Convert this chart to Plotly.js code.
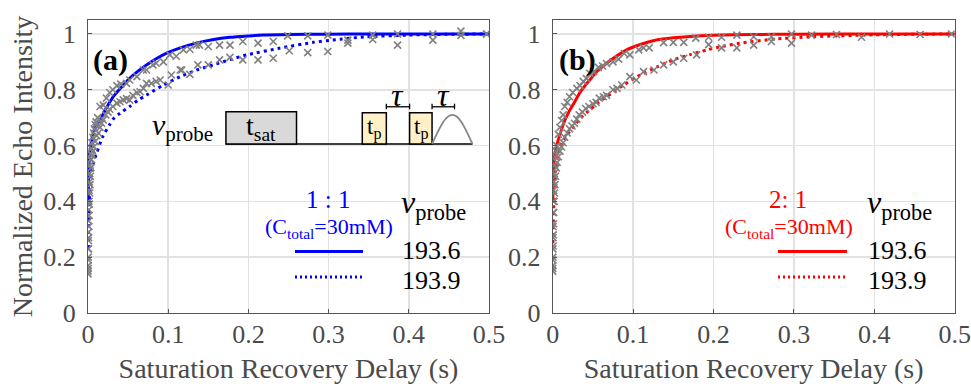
<!DOCTYPE html>
<html>
<head>
<meta charset="utf-8">
<script src="https://cdn.plot.ly/plotly-3.0.1.min.js"></script>
<style>html,body{margin:0;padding:0;background:#fff;}#chart{width:971px;height:387px;}</style>
</head>
<body>
<div id="chart"></div>
<script>
// ---------- Panel (a): 1:1 ----------
const aFit6_t = [0.0002,0.0005,0.001,0.002,0.004,0.0066,0.01,0.015,0.022,0.0315,0.042,0.052,0.062,0.073,0.085,0.098,0.115,0.135,0.155,0.177,0.2,0.218,0.25,0.3,0.35,0.4,0.45,0.5];
const aFit6_y = [0.40,0.47,0.52,0.57,0.61,0.644,0.67,0.692,0.73,0.775,0.81,0.841,0.866,0.889,0.911,0.931,0.95,0.967,0.979,0.988,0.993,0.996,0.998,0.999,1.0,1.0,1.0,1.0];
const aFit9_t = [0.0004,0.001,0.002,0.004,0.007,0.011,0.018,0.027,0.0315,0.04,0.052,0.062,0.073,0.094,0.115,0.135,0.156,0.177,0.198,0.239,0.281,0.305,0.347,0.4,0.43,0.5];
const aFit9_y = [0.232,0.33,0.42,0.50,0.54,0.575,0.63,0.675,0.695,0.716,0.74,0.762,0.781,0.817,0.847,0.87,0.889,0.908,0.925,0.949,0.97,0.978,0.99,0.996,0.998,1.0];
const aDat6_t = [0.0001,0.0002,0.0003,0.0004,0.0005,0.0006,0.0008,0.001,0.0012,0.0015,0.0018,0.0022,0.0026,0.003,0.0035,0.004,0.005,0.006,0.007,0.008,0.009,0.01,0.012,0.015,0.019,0.023,0.027,0.031,0.036,0.041,0.048,0.052,0.061,0.069,0.073,0.081,0.085,0.094,0.102,0.11,0.119,0.127,0.135,0.139,0.150,0.164,0.177,0.193,0.212,0.231,0.249,0.274,0.299,0.324,0.355,0.386,0.43,0.465,0.497];
const aDat6_y = [0.15,0.17,0.20,0.23,0.26,0.29,0.33,0.37,0.40,0.44,0.47,0.50,0.53,0.55,0.57,0.59,0.61,0.63,0.645,0.66,0.675,0.685,0.70,0.74,0.745,0.77,0.79,0.80,0.815,0.82,0.823,0.835,0.847,0.871,0.871,0.889,0.895,0.90,0.925,0.92,0.943,0.945,0.96,0.96,0.955,0.96,0.96,0.973,0.967,0.973,0.993,0.993,0.996,0.978,0.996,1.0,1.0,1.01,1.0];
const aDat9_t = [0.0001,0.0002,0.0003,0.0005,0.0007,0.001,0.0013,0.0017,0.0021,0.0026,0.003,0.0036,0.0043,0.005,0.006,0.007,0.009,0.011,0.0128,0.015,0.017,0.019,0.022,0.025,0.027,0.031,0.036,0.04,0.044,0.048,0.052,0.056,0.061,0.065,0.069,0.073,0.079,0.085,0.09,0.1,0.104,0.115,0.117,0.127,0.137,0.150,0.164,0.177,0.193,0.212,0.231,0.251,0.274,0.299,0.324,0.355,0.386,0.43,0.465,0.497];
const aDat9_y = [0.14,0.16,0.19,0.23,0.27,0.31,0.35,0.39,0.43,0.46,0.49,0.52,0.55,0.565,0.58,0.595,0.615,0.635,0.645,0.665,0.68,0.692,0.71,0.72,0.73,0.74,0.752,0.757,0.764,0.768,0.763,0.78,0.79,0.793,0.805,0.823,0.823,0.83,0.835,0.817,0.853,0.871,0.871,0.855,0.889,0.889,0.907,0.916,0.907,0.907,0.913,0.94,0.933,0.937,0.967,0.98,0.96,0.978,0.995,1.0];

// ---------- Panel (b): 2:1 ----------
const bFit6_t = [0.0002,0.0005,0.001,0.002,0.004,0.009,0.015,0.02,0.026,0.035,0.046,0.056,0.067,0.079,0.092,0.11,0.129,0.15,0.171,0.2,0.25,0.3,0.4,0.5];
const bFit6_y = [0.40,0.47,0.52,0.56,0.59,0.64,0.69,0.72,0.75,0.795,0.835,0.868,0.895,0.92,0.943,0.963,0.978,0.986,0.991,0.995,0.998,0.999,1.0,1.0];
const bFit9_t = [0.0003,0.0008,0.0017,0.003,0.006,0.01,0.017,0.026,0.035,0.046,0.056,0.067,0.078,0.088,0.109,0.13,0.15,0.171,0.192,0.212,0.233,0.274,0.324,0.4,0.5];
const bFit9_y = [0.25,0.33,0.43,0.50,0.56,0.60,0.635,0.668,0.70,0.728,0.752,0.775,0.797,0.817,0.853,0.882,0.907,0.926,0.943,0.956,0.967,0.981,0.99,0.997,1.0];
const bDat6_t = [0.0001,0.0002,0.0003,0.0004,0.0005,0.0007,0.0009,0.0012,0.0015,0.0019,0.0024,0.003,0.004,0.005,0.007,0.009,0.011,0.013,0.015,0.018,0.021,0.025,0.03,0.034,0.038,0.042,0.046,0.051,0.057,0.062,0.067,0.075,0.082,0.089,0.096,0.107,0.113,0.12,0.138,0.15,0.163,0.178,0.194,0.21,0.229,0.25,0.272,0.297,0.322,0.353,0.384,0.419,0.457,0.496];
const bDat6_y = [0.16,0.19,0.23,0.27,0.31,0.36,0.40,0.44,0.47,0.50,0.53,0.56,0.58,0.60,0.64,0.665,0.69,0.71,0.74,0.755,0.775,0.79,0.805,0.815,0.83,0.84,0.859,0.865,0.88,0.885,0.894,0.90,0.91,0.93,0.925,0.943,0.95,0.95,0.969,0.97,0.97,0.985,0.988,0.988,0.996,0.99,0.99,1.0,0.996,0.998,0.988,1.0,0.998,1.0];
const bDat9_t = [0.0001,0.0002,0.0003,0.0005,0.0007,0.001,0.0013,0.0017,0.0022,0.0028,0.0035,0.0045,0.0055,0.007,0.009,0.011,0.013,0.015,0.018,0.021,0.024,0.027,0.03,0.033,0.037,0.041,0.045,0.05,0.054,0.058,0.063,0.067,0.075,0.08,0.086,0.096,0.104,0.113,0.126,0.138,0.15,0.163,0.179,0.194,0.21,0.229,0.25,0.272,0.297];
const bDat9_y = [0.15,0.17,0.20,0.24,0.28,0.32,0.36,0.40,0.43,0.46,0.49,0.52,0.54,0.56,0.58,0.595,0.61,0.63,0.645,0.66,0.67,0.68,0.695,0.71,0.72,0.733,0.74,0.75,0.755,0.77,0.775,0.78,0.8,0.805,0.817,0.847,0.835,0.865,0.871,0.889,0.90,0.913,0.925,0.962,0.95,0.95,0.96,0.973,0.967];

// ---------- Text / labels ----------
const xTickVals = [0,0.1,0.2,0.3,0.4,0.5];
const xTickText = ['0','0.1','0.2','0.3','0.4','0.5'];
const yTickVals = [0,0.2,0.4,0.6,0.8,1];
const yTickText = ['0','0.2','0.4','0.6','0.8','1'];
const xTitle = 'Saturation Recovery Delay (s)';
const yTitle = 'Normalized Echo Intensity';
const probeLabels = ['193.6','193.9'];
const ratioA = '1 : 1';
const ratioB = '2: 1';
const concLabel = '(C<sub>total</sub>=30mM)';

// ---------- Styling ----------
const W = 971, H = 387;
const SERIF = '"Liberation Serif", "Times New Roman", serif';
const BLUE = '#0000ff', RED = '#ff0000', GRAY = '#808080';
const TXT = '#4a4a4a';
const px = v => v / W;
const py = v => 1 - v / H;

function lineTrace(t, y, color, dash, xa, ya) {
  return {x: t, y: y, type: 'scatter', mode: 'lines', xaxis: xa, yaxis: ya,
    line: {color: color, width: 3, dash: dash, shape: 'spline', smoothing: 0.6},
    hoverinfo: 'skip', showlegend: false};
}
function markTrace(t, y, xa, ya) {
  return {x: t, y: y, type: 'scatter', mode: 'markers', xaxis: xa, yaxis: ya,
    marker: {symbol: 'x-thin', size: 7, color: GRAY, line: {color: GRAY, width: 1.6}},
    hoverinfo: 'skip', showlegend: false};
}

const data = [
  lineTrace(aFit6_t, aFit6_y, BLUE, 'solid', 'x', 'y'),
  lineTrace(aFit9_t, aFit9_y, BLUE, '3px,4px', 'x', 'y'),
  markTrace(aDat6_t, aDat6_y, 'x', 'y'),
  markTrace(aDat9_t, aDat9_y, 'x', 'y'),
  lineTrace(bFit6_t, bFit6_y, RED, 'solid', 'x2', 'y2'),
  lineTrace(bFit9_t, bFit9_y, RED, '3px,4px', 'x2', 'y2'),
  markTrace(bDat6_t, bDat6_y, 'x2', 'y2'),
  markTrace(bDat9_t, bDat9_y, 'x2', 'y2')
];

const AXC = '#555555';
function xAxis(domain, anchor) {
  return {domain: domain, anchor: anchor, range: [0, 0.5], tickvals: xTickVals, ticktext: xTickText,
    ticks: 'inside', ticklen: 4, tickcolor: AXC, showline: true, mirror: true, linecolor: AXC, linewidth: 1,
    showgrid: true, gridcolor: '#e2e2e2', gridwidth: 1.5, zeroline: false, ticklabelstandoff: -2,
    tickfont: {family: SERIF, size: 26, color: TXT},
    title: {text: xTitle, font: {family: SERIF, size: 28, color: TXT}, standoff: 10}};
}
function yAxis(domain, anchor, withTitle) {
  const ax = {domain: domain, anchor: anchor, range: [0, 1.05], tickvals: yTickVals, ticktext: yTickText,
    ticks: 'inside', ticklen: 4, tickcolor: AXC, showline: true, mirror: true, linecolor: AXC, linewidth: 1,
    showgrid: true, gridcolor: '#e2e2e2', gridwidth: 1.5, zeroline: false, ticklabelstandoff: 6,
    tickfont: {family: SERIF, size: 26, color: TXT}};
  if (withTitle) ax.title = {text: yTitle, font: {family: SERIF, size: 28, color: TXT}, standoff: 2};
  return ax;
}

const yDom = [py(313), py(20)];
const shapes = [];
const annotations = [];
function note(x, y, text, size, color, xref, yref) {
  annotations.push({xref: xref || 'paper', yref: yref || 'paper', x: x, y: y, text: text, showarrow: false,
    xanchor: 'center', yanchor: 'middle', font: {family: SERIF, size: size, color: color || '#000'}});
}

// pulse sequence inset (panel a, data coordinates)
const base = 0.606;
shapes.push({type: 'line', xref: 'x', yref: 'y', x0: 0.172, x1: 0.4795, y0: base, y1: base, line: {color: '#000', width: 1.5}});
shapes.push({type: 'rect', xref: 'x', yref: 'y', x0: 0.172, x1: 0.260, y0: base, y1: 0.7215, fillcolor: '#d9d9d9', line: {color: '#000', width: 1.5}});
shapes.push({type: 'rect', xref: 'x', yref: 'y', x0: 0.342, x1: 0.372, y0: base, y1: 0.718, fillcolor: '#fff0c8', line: {color: '#000', width: 1.5}});
shapes.push({type: 'rect', xref: 'x', yref: 'y', x0: 0.401, x1: 0.429, y0: base, y1: 0.718, fillcolor: '#fff0c8', line: {color: '#000', width: 1.5}});
shapes.push({type: 'path', xref: 'x', yref: 'y', path: 'M 0.429,0.606 C 0.438,0.66 0.445,0.71 0.4543,0.71 C 0.4636,0.71 0.4705,0.66 0.4795,0.606', line: {color: '#888', width: 1.8}});
[[0.372, 0.401], [0.429, 0.457]].forEach(([a, b]) => {
  shapes.push({type: 'line', xref: 'x', yref: 'y', x0: a, x1: b, y0: 0.739, y1: 0.739, line: {color: '#000', width: 1.3}});
  shapes.push({type: 'line', xref: 'x', yref: 'y', x0: a, x1: a, y0: 0.73, y1: 0.75, line: {color: '#000', width: 1.3}});
  shapes.push({type: 'line', xref: 'x', yref: 'y', x0: b, x1: b, y0: 0.73, y1: 0.75, line: {color: '#000', width: 1.3}});
  note((a + b) / 2, 0.78, '<i>τ</i>', 32, '#000', 'x', 'y');
});
note(0.216, 0.664, 't<sub>sat</sub>', 28, '#000', 'x', 'y');
note(0.357, 0.66, 't<sub>p</sub>', 23, '#000', 'x', 'y');
note(0.415, 0.66, 't<sub>p</sub>', 23, '#000', 'x', 'y');
note(px(182), py(127), '<i>ν</i><sub>probe</sub>', 30);

// panel labels
note(px(110), py(60), '<b>(a)</b>', 30);
note(px(577), py(60), '<b>(b)</b>', 30);

// custom legends
function legendBlock(cx, color, ratio, sx0, sx1, nx) {
  note(px(cx), py(199), ratio, 25, color);
  note(px(cx + 1), py(228), concLabel, 22, color);
  shapes.push({type: 'line', xref: 'paper', yref: 'paper', x0: px(sx0), x1: px(sx1), y0: py(251.5), y1: py(251.5), line: {color: color, width: 3}});
  shapes.push({type: 'line', xref: 'paper', yref: 'paper', x0: px(sx0), x1: px(sx1), y0: py(277), y1: py(277), line: {color: color, width: 3, dash: '2px,3px'}});
  note(px(nx + 2), py(204), '<i>ν</i><sub>probe</sub>', 32);
  note(px(nx), py(250), probeLabels[0], 26);
  note(px(nx), py(280), probeLabels[1], 26);
}
legendBlock(328, BLUE, ratioA, 295, 363, 431);
legendBlock(788, RED, ratioB, 778, 847, 897);

const layout = {
  width: W, height: H, margin: {l: 0, r: 0, t: 0, b: 0},
  paper_bgcolor: '#fff', plot_bgcolor: '#fff', showlegend: false,
  xaxis: xAxis([px(88), px(489)], 'y'),
  yaxis: yAxis(yDom, 'x', true),
  xaxis2: xAxis([px(552.7), px(954.7)], 'y2'),
  yaxis2: yAxis(yDom, 'x2', false),
  shapes: shapes, annotations: annotations
};
Plotly.newPlot('chart', data, layout, {displayModeBar: false, staticPlot: true});
</script>
</body>
</html>
